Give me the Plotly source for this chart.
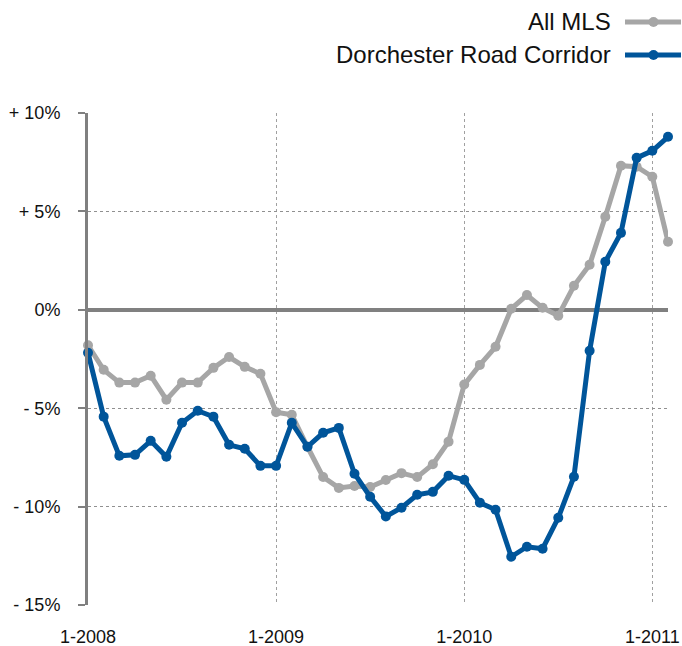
import plotly.graph_objects as go

# Monthly data, Jan 2008 .. Feb 2011 (year-over-year change, %)
all_mls = [-1.8, -3.05, -3.7, -3.7, -3.35, -4.57, -3.7, -3.7, -2.95, -2.4, -2.9, -3.25,
           -5.2, -5.33, -6.96, -8.5, -9.05, -8.95, -9.0, -8.65, -8.3, -8.5, -7.85, -6.7,
           -3.8, -2.8, -1.88, 0.05, 0.75, 0.1, -0.3, 1.22, 2.29, 4.73, 7.32, 7.27, 6.76,
           3.46]
dorchester = [-2.18, -5.43, -7.42, -7.37, -6.66, -7.47, -5.74, -5.13, -5.43, -6.86, -7.06,
              -7.93, -7.93, -5.74, -6.96, -6.25, -6.0, -8.33, -9.5, -10.5, -10.06, -9.4,
              -9.25, -8.43, -8.64, -9.8, -10.16, -12.55, -12.04, -12.14, -10.57, -8.48,
              -2.08, 2.44, 3.91, 7.72, 8.08, 8.79]
months = [f"{m}-{y}" for y in (2008, 2009, 2010, 2011) for m in range(1, 13)][:len(all_mls)]
x_tick_labels = ["1-2008", "1-2009", "1-2010", "1-2011", ""]
x_tick_idx = [0, 12, 24, 36, 37]
y_tick_vals = [10, 5, 0, -5, -10, -15]
y_tick_labels = ["+ 10%", "+ 5%", "0%", "- 5%", "- 10%", "- 15%"]
series_names = ["All MLS", "Dorchester Road Corridor"]

GRAY = "#a6a6a6"
BLUE = "#00559a"
W, H = 682, 646
L, R, T, B = 88, 14, 113, 41
FONT = "Liberation Sans, Arial, Helvetica, sans-serif"

x = list(range(len(months)))

fig = go.Figure()
for name, vals, col in [(series_names[0], all_mls, GRAY), (series_names[1], dorchester, BLUE)]:
    fig.add_trace(go.Scatter(
        x=x, y=vals, mode="lines+markers", name=name, text=months,
        line=dict(color=col, width=5), marker=dict(color=col, size=10),
        cliponaxis=False, showlegend=False,
    ))

pw = W - L - R
ph = H - T - B


def px_x(p):
    return (p - L) / pw


def px_y(p):
    return (H - B - p) / ph


# Custom legend (text right-aligned, symbol on the right)
legend_rows = [(series_names[0], GRAY, 22), (series_names[1], BLUE, 55)]
shapes = []
annotations = []
for name, col, yy in legend_rows:
    annotations.append(dict(
        xref="paper", yref="paper", x=px_x(613), y=px_y(yy), xanchor="right", yanchor="middle",
        text=name, showarrow=False, font=dict(family=FONT, size=24, color="#111111"),
    ))
    shapes.append(dict(type="line", xref="paper", yref="paper",
                       x0=px_x(625), x1=px_x(681), y0=px_y(yy), y1=px_y(yy),
                       line=dict(color=col, width=5)))
    shapes.append(dict(type="circle", xref="paper", yref="paper",
                       x0=px_x(648.5), x1=px_x(658.5), y0=px_y(yy - 5), y1=px_y(yy + 5),
                       fillcolor=col, line=dict(color=col, width=0)))

fig.update_layout(
    width=W, height=H,
    margin=dict(l=L, r=R, t=T, b=B, pad=0, autoexpand=False),
    paper_bgcolor="white", plot_bgcolor="white",
    font=dict(family=FONT, size=18, color="#111111"),
    shapes=shapes, annotations=annotations,
    showlegend=False,
)
fig.update_xaxes(
    range=[0, len(months) - 1], tickmode="array", tickvals=x_tick_idx, ticktext=x_tick_labels,
    showgrid=True, gridcolor="#a0a0a0", griddash="dot", gridwidth=1,
    showline=False, zeroline=False, ticks="", ticklabelstandoff=19, automargin=False,
    tickfont=dict(family=FONT, size=18, color="#111111"),
)
fig.update_yaxes(
    range=[-15, 10], tickmode="array", tickvals=y_tick_vals, ticktext=y_tick_labels,
    showgrid=True, gridcolor="#909090", griddash="dot", gridwidth=1,
    showline=True, linecolor="#808080", linewidth=3,
    zeroline=True, zerolinecolor="#808080", zerolinewidth=4,
    ticks="outside", ticklen=7, tickcolor="#808080", tickwidth=2,
    ticklabelstandoff=14, automargin=False,
    tickfont=dict(family=FONT, size=18, color="#111111"),
)

fig.write_html(
    "out.html",
    config={"displayModeBar": False},
    post_script="document.body.style.margin='0';document.body.style.overflow='hidden';",
)
